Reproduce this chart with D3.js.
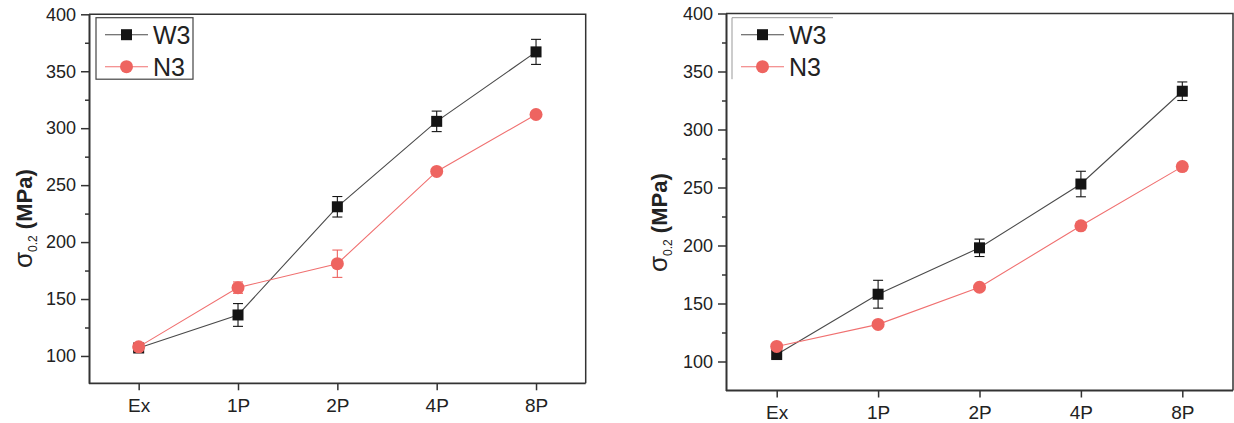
<!DOCTYPE html>
<html>
<head>
<meta charset="utf-8">
<script src="https://cdn.jsdelivr.net/npm/d3@7"></script>
<style>
  body { margin: 0; background: #fff; }
  svg { font-family: "Liberation Sans", Arial, sans-serif; }
</style>
</head>
<body>
<div id="chart"></div>
<script>
// categories
const categories = ["Ex", "1P", "2P", "4P", "8P"];
const yTicks = [100, 150, 200, 250, 300, 350, 400];
const yMinor = [125, 175, 225, 275, 325, 375];

// left panel
const leftW3 = [107, 136, 231, 306, 367];
const leftW3Err = [3, 10, 9, 9, 11];
const leftN3 = [108, 160, 181, 262, 312];
const leftN3Err = [2, 5, 12, 2, 2];

// right panel
const rightW3 = [106, 158, 198, 253, 333];
const rightW3Err = [3, 12, 7.5, 11, 8];
const rightN3 = [113, 132, 164, 217, 268];
const rightN3Err = [2, 2, 2, 2, 3];

const colors = {
    w3: "#141414",
    w3Line: "#4a4a4a",
    n3: "#ee6460",
    n3Line: "#f07070",
    axis: "#333"
};

const svg = d3.select("#chart").append("svg")
    .attr("width", 1234).attr("height", 423);

const panels = [
    { x0: 89, x1: 585.7, yTop: 14.3, yBot: 383.3, yMin: 76, w3: leftW3, w3e: leftW3Err, n3: leftN3, n3e: leftN3Err,
      legend: { x: 96, y: 17.7, w: 97, h: 61.5, full: true }, labelX: 32, labelY: 268 },
    { x0: 726, x1: 1233, yTop: 13.5, yBot: 390.5, yMin: 75, w3: rightW3, w3e: rightW3Err, n3: rightN3, n3e: rightN3Err,
      legend: { x: 732, y: 17.7, w: 101, h: 61.5, full: false }, labelX: 667, labelY: 272 }
];

panels.forEach(p => {
    const x = d3.scalePoint().domain(categories).range([p.x0, p.x1]).padding(0.5);
    const y = d3.scaleLinear().domain([p.yMin, 400]).range([p.yBot, p.yTop]);
    const g = svg.append("g");

    // frame top + right
    g.append("path")
        .attr("d", `M${p.x0},${p.yTop}H${p.x1}V${p.yBot}`)
        .attr("fill", "none").attr("stroke", colors.axis).attr("stroke-width", 1.5);

    // x axis
    const xAx = g.append("g").attr("transform", `translate(0,${p.yBot})`)
        .call(d3.axisBottom(x).tickSize(7).tickPadding(8).tickSizeOuter(0));
    xAx.select(".domain").attr("stroke", colors.axis).attr("stroke-width", 1.8)
        .attr("d", `M${p.x0},0H${p.x1}`);
    xAx.selectAll(".tick line").attr("stroke", colors.axis).attr("stroke-width", 1.5);
    xAx.selectAll(".tick text").attr("font-size", 19).attr("fill", "#222")
        .attr("font-family", "Liberation Sans, Arial, sans-serif");

    // y axis
    const yAx = g.append("g").attr("transform", `translate(${p.x0},0)`)
        .call(d3.axisLeft(y).tickValues(yTicks).tickSize(8).tickPadding(5).tickSizeOuter(0));
    yAx.select(".domain").attr("stroke", colors.axis).attr("stroke-width", 2);
    yAx.selectAll(".tick line").attr("stroke", colors.axis).attr("stroke-width", 1.5);
    yAx.selectAll(".tick text").attr("font-size", 18).attr("fill", "#222")
        .attr("font-family", "Liberation Sans, Arial, sans-serif");
    g.append("g").attr("transform", `translate(${p.x0},0)`)
        .call(d3.axisLeft(y).tickValues(yMinor).tickSize(4).tickFormat(""))
        .call(a => a.select(".domain").remove())
        .selectAll(".tick line").attr("stroke", colors.axis).attr("stroke-width", 1.5);

    // y label
    const lab = g.append("text")
        .attr("transform", `translate(${p.labelX},${p.labelY}) rotate(-90)`)
        .attr("font-size", 22).attr("fill", "#222");
    lab.append("tspan").attr("font-size", 26).text("σ");
    lab.append("tspan").attr("dy", 5).attr("font-size", 12).text("0.2");
    lab.append("tspan").attr("dy", -5).attr("font-weight", "bold").text(" (MPa)");

    const series = [
        { v: p.w3, e: p.w3e, c: colors.w3, lc: colors.w3Line, shape: "square" },
        { v: p.n3, e: p.n3e, c: colors.n3, lc: colors.n3Line, shape: "circle" }
    ];

    series.forEach(s => {
        const pts = categories.map((c, i) => ({ c, v: s.v[i], e: s.e[i] }));
        g.append("path").datum(pts)
            .attr("fill", "none").attr("stroke", s.lc).attr("stroke-width", 1.1)
            .attr("d", d3.line().x(d => x(d.c)).y(d => y(d.v)));

        const eb = g.selectAll(null).data(pts).enter().append("g")
            .attr("stroke", s.c).attr("stroke-width", 1.1);
        eb.append("line")
            .attr("x1", d => x(d.c)).attr("x2", d => x(d.c))
            .attr("y1", d => y(d.v - d.e)).attr("y2", d => y(d.v + d.e));
        [-1, 1].forEach(sgn => {
            eb.append("line")
                .attr("x1", d => x(d.c) - 5).attr("x2", d => x(d.c) + 5)
                .attr("y1", d => y(d.v + sgn * d.e)).attr("y2", d => y(d.v + sgn * d.e));
        });

        if (s.shape === "square") {
            g.selectAll(null).data(pts).enter().append("rect")
                .attr("x", d => x(d.c) - 5.5).attr("y", d => y(d.v) - 5.5)
                .attr("width", 11).attr("height", 11).attr("fill", s.c);
        } else {
            g.selectAll(null).data(pts).enter().append("circle")
                .attr("cx", d => x(d.c)).attr("cy", d => y(d.v))
                .attr("r", 6.5).attr("fill", s.c);
        }
    });

    // legend
    const L = p.legend;
    if (L.full) {
        g.append("rect").attr("x", L.x).attr("y", L.y).attr("width", L.w).attr("height", L.h)
            .attr("fill", "#fff").attr("stroke", "#444").attr("stroke-width", 1.2);
    } else {
        g.append("rect").attr("x", L.x).attr("y", L.y).attr("width", L.w).attr("height", L.h)
            .attr("fill", "#fff");
        g.append("path").attr("d", `M${L.x},${L.y + L.h}V${L.y}H${L.x + L.w}`)
            .attr("fill", "none").attr("stroke", "#999").attr("stroke-width", 1);
    }
    const legItems = [
        { name: "W3", c: colors.w3, lc: colors.w3Line, shape: "square", dy: 17 },
        { name: "N3", c: colors.n3, lc: colors.n3Line, shape: "circle", dy: 49 }
    ];
    legItems.forEach(it => {
        const ly = L.y + it.dy;
        g.append("line").attr("x1", L.x + 9).attr("x2", L.x + 52)
            .attr("y1", ly).attr("y2", ly).attr("stroke", it.lc).attr("stroke-width", 1.1);
        if (it.shape === "square") {
            g.append("rect").attr("x", L.x + 30.5 - 5.5).attr("y", ly - 5.5)
                .attr("width", 11).attr("height", 11).attr("fill", it.c);
        } else {
            g.append("circle").attr("cx", L.x + 30.5).attr("cy", ly).attr("r", 6.5).attr("fill", it.c);
        }
        g.append("text").attr("x", L.x + 57).attr("y", ly + 9)
            .attr("font-size", 25).attr("fill", "#222").text(it.name);
    });
});
</script>
</body>
</html>
